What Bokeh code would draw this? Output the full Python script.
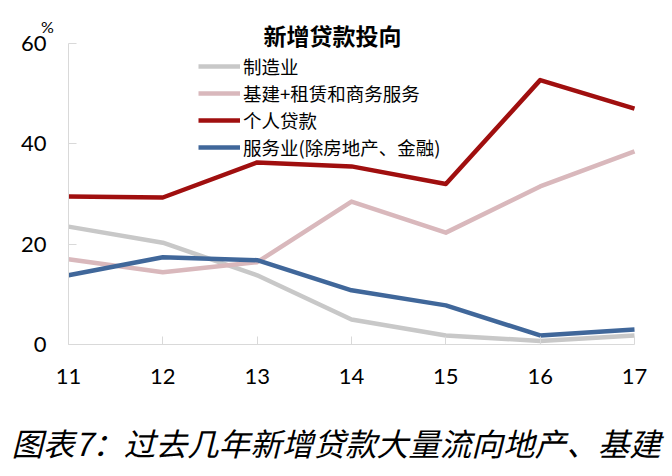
from bokeh.plotting import figure
from bokeh.models import Range1d, FixedTicker, Legend, LegendItem, Label
from bokeh.embed import file_html
from bokeh.resources import INLINE

# ---- data ----
years = [11, 12, 13, 14, 15, 16, 17]
tick_labels = ["11", "12", "13", "14", "15", "16", "17"]
y_ticks = [0, 20, 40, 60]

manufacturing = [23.5, 20.3, 13.8, 5.0, 1.8, 0.7, 1.8]
infra_leasing = [17.0, 14.4, 16.4, 28.5, 22.3, 31.5, 38.5]
personal_loans = [29.5, 29.3, 36.3, 35.5, 32.0, 52.7, 47.0]
services = [13.8, 17.4, 16.8, 10.8, 7.8, 1.8, 3.0]

series_names = ["制造业", "基建+租赁和商务服务", "个人贷款", "服务业(除房地产、金融)"]
series_values = [manufacturing, infra_leasing, personal_loans, services]
series_colors = ["#C8C8C8", "#D9B8BC", "#A00F0F", "#40679A"]

chart_title = "新增贷款投向"
caption = "图表7：过去几年新增贷款大量流向地产、基建"
unit_label = "%"

CJK = "Noto Sans CJK SC"
NUM = "Lato"

# ---- layout: the frame fills the canvas, axes are pinned inside ----
W, H = 672, 476
px_left, px_right = 68, 634      # screen x of first / last year
px_zero, px_top = 344, 43        # screen y of 0 and 60
xs = (px_right - px_left) / (years[-1] - years[0])
ys = (px_zero - px_top) / (y_ticks[-1] - y_ticks[0])
x_range = Range1d(years[0] - px_left / xs, years[-1] + (W - px_right) / xs)
y_range = Range1d(y_ticks[0] - (H - px_zero) / ys, y_ticks[-1] + px_top / ys)

p = figure(width=W, height=H, output_backend="svg", toolbar_location=None,
           x_range=x_range, y_range=y_range, min_border=0)
p.outline_line_color = None
p.xgrid.visible = False
p.ygrid.visible = False
p.background_fill_color = "white"
p.border_fill_color = "white"

renderers = []
for vals, col in zip(series_values, series_colors):
    r = p.line(years, vals, line_color=col, line_width=4.5, line_join="round")
    renderers.append(r)

for ax in (p.xaxis[0], p.yaxis[0]):
    ax.axis_line_color = "#D9D9D9"
    ax.axis_line_width = 1
    ax.major_tick_line_color = "#D9D9D9"
    ax.major_tick_in = 8
    ax.major_tick_out = 0
    ax.minor_tick_line_color = None
    ax.major_label_text_font = NUM
    ax.major_label_text_font_size = "22px"
    ax.major_label_text_color = "#000000"

xa = p.xaxis[0]
xa.fixed_location = y_ticks[0]
xa.bounds = (years[0], years[-1])
xa.ticker = FixedTicker(ticks=years)
xa.major_label_overrides = {y: t for y, t in zip(years, tick_labels)}
xa.major_label_standoff = 24

ya = p.yaxis[0]
ya.fixed_location = years[0]
ya.bounds = (y_ticks[0], y_ticks[-1])
ya.ticker = FixedTicker(ticks=y_ticks)
ya.major_label_standoff = 22

# legend: one row per series, rows 27px apart
row_centers = [66, 93, 120, 147]
for name, r, c in zip(series_names, renderers, row_centers):
    lg = Legend(items=[LegendItem(label=name, renderers=[r])],
                location=(198, H - c - 13), orientation="vertical",
                padding=0, margin=0, spacing=0,
                glyph_width=42, glyph_height=26, label_height=26,
                label_standoff=3,
                label_text_font=CJK, label_text_font_size="18.5px",
                label_text_color="#000000",
                border_line_color=None, background_fill_alpha=0)
    p.add_layout(lg, "center")

p.add_layout(Label(x=332, y=H - 34, x_units="screen", y_units="screen",
                   text=chart_title, text_font=CJK, text_font_size="23px",
                   text_font_style="bold", text_align="center",
                   text_baseline="middle", text_color="#000000"))

p.add_layout(Label(x=47, y=H - 26, x_units="screen", y_units="screen",
                   text=unit_label, text_font=NUM, text_font_size="16px",
                   text_align="center", text_baseline="middle",
                   text_color="#000000"))

p.add_layout(Label(x=11, y=H - 441, x_units="screen", y_units="screen",
                   text=caption, text_font=CJK, text_font_size="31.6px",
                   text_font_style="italic", text_align="left",
                   text_baseline="middle", text_color="#000000"))

open("out.html", "w").write(file_html(p, INLINE))
